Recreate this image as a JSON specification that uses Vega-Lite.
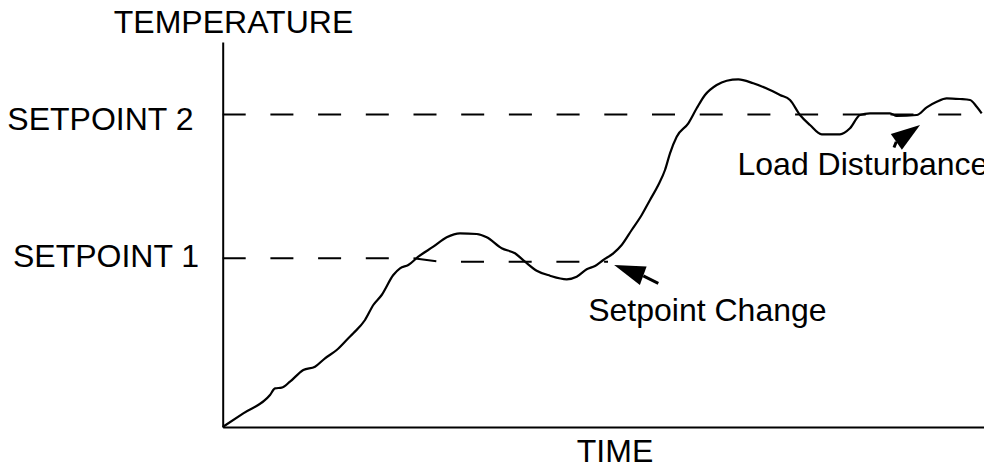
{
  "$schema": "https://vega.github.io/schema/vega-lite/v6.json",
  "width": 761.3,
  "height": 385,
  "autosize": {"type": "none"},
  "padding": {"left": 222.7, "top": 42, "right": 0, "bottom": 41},
  "background": "white",
  "config": {
    "view": {"stroke": null},
    "axis": {"domain": true, "domainColor": "black", "domainWidth": 2, "ticks": false, "labels": false, "grid": false, "titleOpacity": 0},
    "text": {"font": "Liberation Sans", "fontSize": 32, "color": "black"}
  },
  "datasets": {
    "response": [
      {"time": 0, "temp": 0}, {"time": 20.6, "temp": 13.7}, {"time": 47.3, "temp": 32},
      {"time": 52.3, "temp": 38.7}, {"time": 59, "temp": 39.3}, {"time": 67.3, "temp": 45.3},
      {"time": 80.6, "temp": 57}, {"time": 92.3, "temp": 60.3}, {"time": 102.3, "temp": 68.7},
      {"time": 114, "temp": 77}, {"time": 125.6, "temp": 88.7}, {"time": 130.6, "temp": 93.7},
      {"time": 142.3, "temp": 107}, {"time": 150.6, "temp": 122}, {"time": 159, "temp": 132},
      {"time": 170.6, "temp": 152}, {"time": 177.3, "temp": 158.7}, {"time": 185.6, "temp": 162},
      {"time": 195.6, "temp": 170.3}, {"time": 210.6, "temp": 180.3}, {"time": 224, "temp": 189.7},
      {"time": 237.3, "temp": 193.7}, {"time": 254, "temp": 193}, {"time": 264, "temp": 189.7},
      {"time": 279, "temp": 178.7}, {"time": 292.3, "temp": 173.7}, {"time": 302.3, "temp": 165.3},
      {"time": 314, "temp": 156.3}, {"time": 327.3, "temp": 151.3}, {"time": 344, "temp": 147.7},
      {"time": 354, "temp": 150.3}, {"time": 364, "temp": 157.7}, {"time": 372.3, "temp": 161},
      {"time": 380.6, "temp": 167}, {"time": 390.6, "temp": 173.7}, {"time": 399, "temp": 182},
      {"time": 409, "temp": 197}, {"time": 419, "temp": 212}, {"time": 427.3, "temp": 227},
      {"time": 435.6, "temp": 242}, {"time": 442.3, "temp": 257}, {"time": 447.3, "temp": 273.7},
      {"time": 454, "temp": 290.3}, {"time": 465.6, "temp": 303.7}, {"time": 474, "temp": 318.7},
      {"time": 482.3, "temp": 332}, {"time": 494, "temp": 342}, {"time": 504, "temp": 346.3},
      {"time": 515.6, "temp": 347.7}, {"time": 530.6, "temp": 343.7}, {"time": 547.3, "temp": 337},
      {"time": 557.3, "temp": 332}, {"time": 567.3, "temp": 327}, {"time": 577.3, "temp": 312},
      {"time": 587.3, "temp": 302}, {"time": 599, "temp": 292.7}, {"time": 617.3, "temp": 292.7},
      {"time": 627.3, "temp": 298.7}, {"time": 637.3, "temp": 312}, {"time": 647.3, "temp": 313.7},
      {"time": 667.3, "temp": 313.7}, {"time": 674, "temp": 311}, {"time": 694, "temp": 312},
      {"time": 704, "temp": 319.7}, {"time": 714, "temp": 325.3}, {"time": 724, "temp": 328.7},
      {"time": 737.3, "temp": 328}, {"time": 747.3, "temp": 327}, {"time": 754, "temp": 320.3},
      {"time": 759, "temp": 313.7}
    ],
    "setpoint1": [
      {"time": 0, "temp": 168.7}, {"time": 190.3, "temp": 168.7},
      {"time": 217.3, "temp": 165.3}, {"time": 385.3, "temp": 165.3}
    ],
    "setpoint2": [
      {"time": 0, "temp": 312.5}, {"time": 761.3, "temp": 312.5}
    ],
    "labels": [
      {"time": 10.8, "temp": 393.7, "text": "TEMPERATURE", "pos": "center"},
      {"time": 392.3, "temp": -35.3, "text": "TIME", "pos": "center"},
      {"time": -215.4, "temp": 297, "text": "SETPOINT 2", "pos": "left"},
      {"time": -209.7, "temp": 160.3, "text": "SETPOINT 1", "pos": "left"},
      {"time": 365.5, "temp": 106, "text": "Setpoint Change", "pos": "left"},
      {"time": 514.8, "temp": 252, "text": "Load Disturbance", "pos": "left"}
    ]
  },
  "layer": [
    {
      "data": {"name": "setpoint2"},
      "mark": {"type": "line", "stroke": "black", "strokeWidth": 2, "strokeDash": [23, 24.7]},
      "encoding": {
        "x": {"field": "time", "type": "quantitative", "title": null, "scale": {"domain": [0, 761.3], "nice": false, "zero": false}},
        "y": {"field": "temp", "type": "quantitative", "title": null, "scale": {"domain": [0, 385], "nice": false, "zero": false}}
      }
    },
    {
      "data": {"name": "setpoint1"},
      "mark": {"type": "line", "stroke": "black", "strokeWidth": 2, "strokeDash": [23, 24.7]},
      "encoding": {
        "x": {"field": "time", "type": "quantitative", "title": null},
        "y": {"field": "temp", "type": "quantitative", "title": null}
      }
    },
    {
      "data": {"name": "response"},
      "mark": {"type": "line", "stroke": "black", "strokeWidth": 2.2, "interpolate": "monotone"},
      "encoding": {
        "x": {"field": "time", "type": "quantitative", "title": null},
        "y": {"field": "temp", "type": "quantitative", "title": null}
      }
    },
    {
      "data": {"values": [{"time": 435.6, "temp": 143.7}, {"time": 420.6, "temp": 151.2}]},
      "mark": {"type": "line", "stroke": "black", "strokeWidth": 3},
      "encoding": {
        "x": {"field": "time", "type": "quantitative", "title": null},
        "y": {"field": "temp", "type": "quantitative", "title": null}
      }
    },
    {
      "data": {"values": [{"time": 673.6, "temp": 285.3}, {"time": 671.3, "temp": 279.5}]},
      "mark": {"type": "line", "stroke": "black", "strokeWidth": 3},
      "encoding": {
        "x": {"field": "time", "type": "quantitative", "title": null},
        "y": {"field": "temp", "type": "quantitative", "title": null}
      }
    },
    {
      "data": {"values": [{"time": 406, "temp": 156.6}]},
      "mark": {"type": "point", "shape": "M1,0L-1,-0.63L-1,0.63Z", "filled": true, "color": "black", "opacity": 1, "size": 961, "angle": 200.2},
      "encoding": {
        "x": {"field": "time", "type": "quantitative", "title": null},
        "y": {"field": "temp", "type": "quantitative", "title": null}
      }
    },
    {
      "data": {"values": [{"time": 685.5, "temp": 293.6}]},
      "mark": {"type": "point", "shape": "M1,0L-1,-0.665L-1,0.665Z", "filled": true, "color": "black", "opacity": 1, "size": 841, "angle": -35.2},
      "encoding": {
        "x": {"field": "time", "type": "quantitative", "title": null},
        "y": {"field": "temp", "type": "quantitative", "title": null}
      }
    },
    {
      "data": {"name": "labels"},
      "transform": [{"filter": "datum.pos === 'center'"}],
      "mark": {"type": "text", "align": "center", "baseline": "alphabetic"},
      "encoding": {
        "x": {"field": "time", "type": "quantitative", "title": null},
        "y": {"field": "temp", "type": "quantitative", "title": null},
        "text": {"field": "text"}
      }
    },
    {
      "data": {"name": "labels"},
      "transform": [{"filter": "datum.pos === 'left'"}],
      "mark": {"type": "text", "align": "left", "baseline": "alphabetic"},
      "encoding": {
        "x": {"field": "time", "type": "quantitative", "title": null},
        "y": {"field": "temp", "type": "quantitative", "title": null},
        "text": {"field": "text"}
      }
    }
  ]
}
